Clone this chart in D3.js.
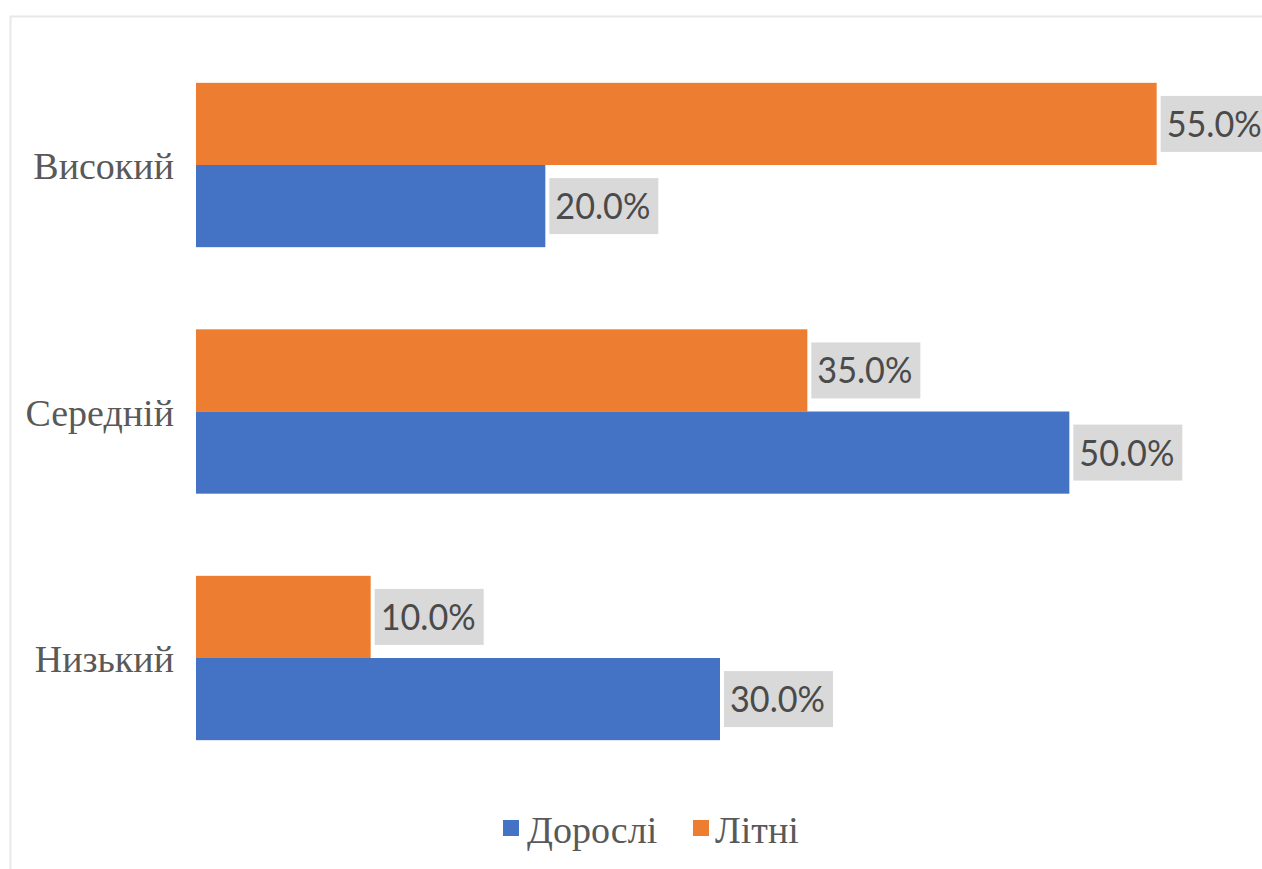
<!DOCTYPE html>
<html>
<head>
<meta charset="utf-8">
<script src="https://cdn.jsdelivr.net/npm/d3@7"></script>
<style>
  html, body { margin: 0; padding: 0; background: #fff; }
  svg { display: block; }
</style>
</head>
<body>
<svg id="chart" width="1262" height="869"></svg>
<script>
// Categories listed top to bottom
const categories = ["Високий", "Середній", "Низький"];
const seriesNames = ["Дорослі", "Літні"];
const adults = [0.20, 0.50, 0.30];   // Дорослі
const seniors = [0.55, 0.35, 0.10];  // Літні
const colors = { "Дорослі": "#4472C4", "Літні": "#ED7D31" };

const svg = d3.select("#chart");

// light chart-area frame
svg.append("rect")
  .attr("x", 10.5).attr("y", 16.5)
  .attr("width", 1400).attr("height", 1000)
  .attr("fill", "#fff")
  .attr("stroke", "#e8e8e8").attr("stroke-width", 2);

const x = d3.scaleLinear().domain([0, 0.6]).range([196, 1244]);
const y = d3.scaleBand().domain(categories)
  .range([41.75, 781.25]).paddingInner(1 / 3).paddingOuter(1 / 6);
// within a group: Літні on top, Дорослі below
const ySub = d3.scaleBand().domain(["Літні", "Дорослі"]).range([0, y.bandwidth()]);

const rows = [];
categories.forEach((c, i) => {
  rows.push({ cat: c, series: "Літні", value: seniors[i] });
  rows.push({ cat: c, series: "Дорослі", value: adults[i] });
});

const fmt = d3.format(".1%");

const g = svg.append("g");
g.selectAll("rect.bar").data(rows).join("rect")
  .attr("class", "bar")
  .attr("x", x(0))
  .attr("y", d => y(d.cat) + ySub(d.series))
  .attr("width", d => x(d.value) - x(0))
  .attr("height", ySub.bandwidth())
  .attr("fill", d => colors[d.series]);

// value labels with grey boxes
const lab = g.selectAll("g.lab").data(rows).join("g").attr("class", "lab")
  .attr("transform", d => `translate(${x(d.value) + 4},${y(d.cat) + ySub(d.series) + ySub.bandwidth() / 2})`);
lab.append("rect")
  .attr("x", 0).attr("y", -28)
  .attr("width", 109).attr("height", 56)
  .attr("fill", "#d9d9d9");
lab.append("text")
  .attr("x", 6).attr("y", 13)
  .attr("font-family", "Lato, 'Open Sans', sans-serif")
  .attr("font-size", 36)
  .attr("fill", "#4a4a4a")
  .attr("textLength", 95)
  .attr("lengthAdjust", "spacingAndGlyphs")
  .text(d => fmt(d.value));

// category axis labels
svg.append("g").selectAll("text").data(categories).join("text")
  .attr("x", 174)
  .attr("y", d => y(d) + y.bandwidth() / 2 + 14)
  .attr("text-anchor", "end")
  .attr("font-family", "'Liberation Serif', 'Times New Roman', serif")
  .attr("font-size", 38)
  .attr("fill", "#595959")
  .text(d => d);

// legend
const legendItems = [
  { name: "Дорослі", sx: 503, tx: 527 },
  { name: "Літні", sx: 693, tx: 715 }
];
const leg = svg.append("g").selectAll("g").data(legendItems).join("g");
leg.append("rect")
  .attr("x", d => d.sx).attr("y", 820)
  .attr("width", 16).attr("height", 16)
  .attr("fill", d => colors[d.name]);
leg.append("text")
  .attr("x", d => d.tx).attr("y", 843)
  .attr("font-family", "'Liberation Serif', 'Times New Roman', serif")
  .attr("font-size", 38)
  .attr("fill", "#595959")
  .text(d => d.name);
</script>
</body>
</html>
